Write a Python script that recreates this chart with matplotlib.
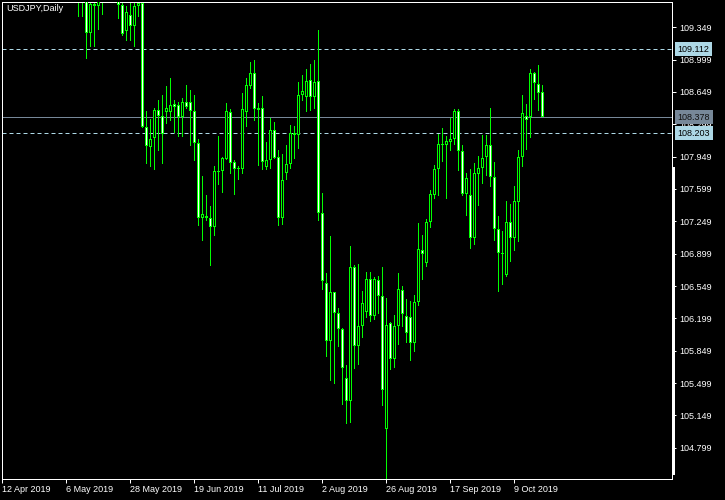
import numpy as np
import matplotlib
matplotlib.use("Agg")
import matplotlib.pyplot as plt
from matplotlib.patches import Rectangle
from matplotlib.lines import Line2D
import matplotlib.transforms as mtransforms

# ---------------- data ----------------
symbol_title = "USDJPY,Daily"
axis_start_date = "2019-04-12"      # first bar on the time axis (left edge)
first_bar_date = "2019-05-09"       # first bar of the OHLC lists below

opens = [110.08, 109.72, 109.94, 109.29, 109.60, 109.58, 109.86, 110.06, 110.06, 110.50,
         110.36, 109.59, 109.31, 109.48, 109.36, 109.58, 109.61, 108.27, 108.05, 108.15,
         108.45, 108.39, 108.43, 108.43, 108.52, 108.51, 108.38, 108.54, 108.54, 108.44,
         108.10, 107.29, 107.31, 107.29, 107.19, 107.79, 107.79, 107.92, 108.43, 107.89,
         107.81, 107.82, 108.43, 108.71, 108.85, 108.45, 108.48, 107.84, 107.91, 108.24,
         107.94, 107.29, 107.77, 107.87, 108.21, 108.18, 108.62, 108.60, 108.78, 108.60,
         108.77, 107.34, 106.58, 105.95, 106.48, 106.26, 106.08, 105.55, 105.30, 106.75,
         105.90, 106.12, 106.27, 106.63, 106.22, 106.61, 106.44, 105.00, 106.15, 105.76,
         106.12, 106.51, 106.22, 106.21, 105.93, 106.38, 106.94, 106.80, 107.24, 107.53,
         107.81, 108.09, 108.07, 108.11, 108.14, 108.44, 108.01, 107.54, 107.53, 107.07,
         107.76, 107.83, 107.95, 108.08, 107.73, 107.17, 106.90, 106.67, 107.24, 107.07,
         107.46, 107.95, 108.39, 108.38, 108.85, 108.74, 108.65]
highs = [110.12, 110.03, 110.00, 109.64, 109.66, 109.98, 110.28, 110.21, 110.67, 110.60,
         110.42, 109.62, 109.58, 109.61, 109.70, 109.93, 109.68, 108.44, 108.36, 108.48,
         108.56, 108.62, 108.71, 108.80, 108.56, 108.54, 108.58, 108.73, 108.67, 108.62,
         108.14, 107.74, 107.53, 107.42, 107.85, 108.17, 107.95, 108.53, 108.47, 107.91,
         107.85, 108.64, 108.80, 108.97, 109.00, 108.53, 108.61, 108.11, 108.37, 108.32,
         108.02, 107.98, 108.07, 108.29, 108.28, 108.76, 108.83, 108.90, 108.95, 109.00,
         109.32, 107.56, 106.69, 107.09, 106.48, 106.31, 106.09, 105.69, 106.98, 106.78,
         106.79, 106.50, 106.70, 106.70, 106.65, 106.66, 106.75, 106.42, 106.16, 106.24,
         106.69, 106.55, 106.41, 106.39, 106.45, 107.23, 107.10, 107.27, 107.59, 107.86,
         108.19, 108.26, 108.17, 108.37, 108.47, 108.47, 108.08, 107.77, 107.81, 107.88,
         107.96, 108.18, 108.18, 108.48, 107.89, 107.31, 107.14, 107.47, 107.44, 107.63,
         108.02, 108.62, 108.52, 108.90, 108.86, 108.94, 108.73]
lows = [109.46, 109.46, 109.01, 109.14, 109.14, 109.32, 109.48, 109.85, 110.00, 110.20,
        109.44, 109.26, 109.20, 109.20, 109.14, 109.46, 108.26, 107.87, 107.84, 107.80,
        108.01, 107.87, 108.30, 108.34, 108.21, 108.16, 108.16, 108.47, 108.06, 107.90,
        107.20, 107.04, 107.25, 106.77, 107.09, 107.64, 107.56, 107.91, 107.76, 107.53,
        107.70, 107.76, 108.27, 108.68, 108.34, 107.85, 107.80, 107.80, 107.81, 107.92,
        107.20, 107.21, 107.70, 107.81, 107.92, 108.03, 108.55, 108.43, 108.44, 108.47,
        107.25, 106.51, 105.78, 105.52, 105.49, 105.89, 105.26, 105.05, 105.07, 105.65,
        105.69, 105.99, 106.20, 106.16, 106.18, 106.25, 105.25, 104.46, 105.64, 105.66,
        105.91, 106.10, 105.93, 105.74, 105.83, 106.33, 106.61, 106.76, 107.18, 107.49,
        107.52, 107.89, 107.49, 108.01, 108.08, 107.79, 107.52, 107.31, 106.95, 106.99,
        107.42, 107.65, 107.74, 107.62, 107.04, 106.48, 106.56, 106.65, 106.81, 106.93,
        107.03, 107.84, 108.02, 108.15, 108.56, 108.44, 108.38]
closes = [109.72, 109.94, 109.29, 109.60, 109.58, 109.86, 110.06, 110.06, 110.50, 110.36,
          109.59, 109.28, 109.51, 109.36, 109.58, 109.61, 108.27, 108.06, 108.14, 108.45,
          108.39, 108.19, 108.48, 108.51, 108.49, 108.38, 108.54, 108.49, 108.44, 108.10,
          107.29, 107.33, 107.29, 107.19, 107.79, 107.78, 107.93, 108.44, 107.88, 107.81,
          107.82, 108.47, 108.73, 108.85, 108.46, 108.48, 107.89, 107.91, 108.24, 107.93,
          107.29, 107.70, 107.87, 108.21, 108.18, 108.62, 108.66, 108.77, 108.60, 108.76,
          107.34, 106.60, 105.95, 106.48, 106.26, 106.08, 105.66, 105.30, 106.75, 105.90,
          106.12, 106.37, 106.63, 106.22, 106.63, 106.44, 105.42, 106.13, 105.76, 106.12,
          106.52, 106.25, 106.04, 105.93, 106.38, 106.95, 106.90, 107.24, 107.54, 107.81,
          108.09, 108.07, 108.12, 108.14, 108.44, 108.01, 107.55, 107.72, 107.07, 107.77,
          107.83, 107.93, 108.08, 107.73, 107.17, 106.91, 106.89, 107.24, 107.07, 107.47,
          107.95, 108.42, 108.35, 108.85, 108.75, 108.64, 108.378]

price_ticks = [109.349, 108.999, 108.649, 108.299, 107.949, 107.599, 107.249,
               106.899, 106.549, 106.199, 105.849, 105.499, 105.149, 104.799]
date_tick_dates = ["2019-04-12", "2019-05-06", "2019-05-28", "2019-06-19", "2019-07-11",
                   "2019-08-02", "2019-08-26", "2019-09-17", "2019-10-09"]
date_tick_labels = ["12 Apr 2019", "6 May 2019", "28 May 2019", "19 Jun 2019", "11 Jul 2019",
                    "2 Aug 2019", "26 Aug 2019", "17 Sep 2019", "9 Oct 2019"]

bid_price = 108.378
level_prices = [109.112, 108.203]
price_min, price_max = 104.460, 109.623

# ---------------- style ----------------
BG = "black"
FG = "white"
CANDLE = "#00ff00"
BID_COLOR = "#778899"
LEVEL_COLOR = "#add8e6"
FONT = "Liberation Sans"
FS = 6.5
PX = 72.0 / 100.0   # one pixel in points

W, H = 725, 500
AX_L, AX_B, AX_W, AX_H = 2, 21, 670, 477
fig = plt.figure(figsize=(W / 100, H / 100), dpi=100, facecolor=BG)
ax = fig.add_axes([AX_L / W, AX_B / H, AX_W / W, AX_H / H], facecolor=BG)

x_lo, x_hi = -0.125, (672 - 2.5) / 4
ax.set_xlim(x_lo, x_hi)
ax.set_ylim(price_min, price_max)
px_x = (x_hi - x_lo) / AX_W            # one pixel in data units (x)
px_y = (price_max - price_min) / AX_H  # one pixel in data units (y)

start_offset = int(np.busday_count(axis_start_date, first_bar_date))
xs = start_offset + np.arange(len(opens))

for x, o, h, l, c in zip(xs, opens, highs, lows, closes):
    # wick
    ax.add_patch(Rectangle((x - 0.5 * px_x, l), px_x, h - l, facecolor=CANDLE,
                           lw=0, antialiased=False, zorder=2))
    top, bot = max(o, c), min(o, c)
    hgt = max(top - bot, px_y)
    # outline of the body
    ax.add_patch(Rectangle((x - 1.5 * px_x, bot), 3 * px_x, hgt, facecolor=CANDLE,
                           lw=0, antialiased=False, zorder=3))
    # interior: white for falling days, black for rising days
    if top - bot > 2 * px_y:
        face = FG if c < o else BG
        ax.add_patch(Rectangle((x - 0.5 * px_x, bot + px_y), px_x, top - bot - 2 * px_y,
                               facecolor=face, lw=0, antialiased=False, zorder=4))

# horizontal levels
ax.axhline(bid_price, color=BID_COLOR, lw=PX, zorder=1)
for lv in level_prices:
    ax.axhline(lv, color=LEVEL_COLOR, lw=PX, ls=(0, (4, 3)), zorder=1)

for s in ax.spines.values():
    s.set_color(FG)
    s.set_linewidth(PX)

# y axis on the right
ax.yaxis.tick_right()
ax.set_yticks(price_ticks)
ax.set_yticklabels([f"{v:.3f}" for v in price_ticks], fontfamily=FONT, fontsize=FS, color=FG)
ax.tick_params(axis="y", direction="out", length=3, width=PX, color=FG, pad=2)

# x axis
date_pos = [int(np.busday_count(axis_start_date, d)) - 0.125 for d in date_tick_dates]
ax.set_xticks(date_pos)
ax.set_xticklabels(date_tick_labels, fontfamily=FONT, fontsize=FS, color=FG, ha="left")
ax.tick_params(axis="x", direction="out", length=3, width=PX, color=FG, pad=1.5)

# price boxes on the right scale
trans = mtransforms.blended_transform_factory(ax.transAxes, ax.transData)
box_x = 1.0 + 5.5 / AX_W
for lv in level_prices:
    ax.text(box_x, lv, f"{lv:.3f}", transform=trans, fontfamily=FONT, fontsize=FS,
            color="black", va="center", ha="left", clip_on=False, zorder=10,
            bbox=dict(boxstyle="square,pad=0.3", facecolor=LEVEL_COLOR, edgecolor="none"))
ax.text(box_x, bid_price, f"{bid_price:.3f}", transform=trans, fontfamily=FONT, fontsize=FS,
        color="#111111", va="center", ha="left", clip_on=False, zorder=10,
        bbox=dict(boxstyle="square,pad=0.3", facecolor=BID_COLOR, edgecolor="none"))

# thick segment on the price scale
ax.add_line(Line2D([1.0015, 1.0015], [6 / AX_H, 311 / AX_H], transform=ax.transAxes,
                   color=FG, lw=3 * PX, clip_on=False, antialiased=False, zorder=5))

# title
fig.text(6 / W, 1 - 4 / H, symbol_title, fontfamily=FONT, fontsize=FS, color=FG,
         ha="left", va="top")

fig.savefig("out.png", dpi=100, facecolor=BG)
